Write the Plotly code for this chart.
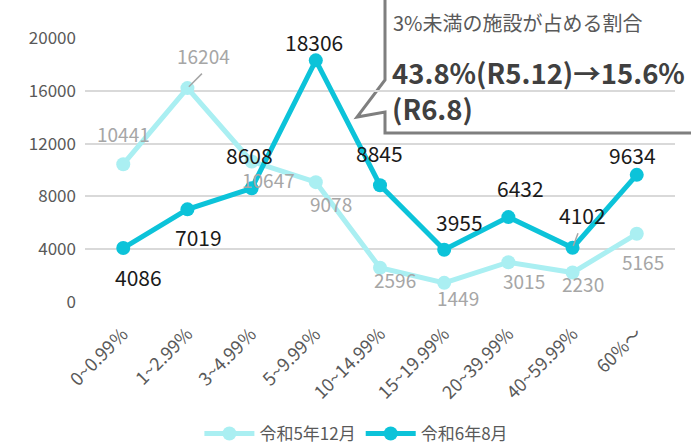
import plotly.graph_objects as go

categories = ["0~0.99％", "1~2.99%", "3~4.99％", "5~9.99％", "10~14.99%",
              "15~19.99%", "20~39.99%", "40~59.99%", "60%～"]
r5_12 = [10441, 16204, 10647, 9078, 2596, 1449, 3015, 2230, 5165]
r6_8 = [4086, 7019, 8608, 18306, 8845, 3955, 6432, 4102, 9634]
y_ticks = [0, 4000, 8000, 12000, 16000, 20000]
y_tick_text = ["0", "4000", "8000", "12000", "16000", "20000"]
series_names = ["令和5年12月", "令和6年8月"]

LIGHT = "#aaeff2"
DARK = "#0cc3d9"
FONT = "Noto Sans CJK JP"

# label offsets (pixels) for each point
light_off = [(0, 31), (16, 33), (17, -18), (15, -21), (15, -12), (14, -15), (16, -18), (10, -11), (6, -28)]
dark_off = [(15, -29), (11, -28), (-2, 33), (-2, 18), (-1, 32), (15, 28), (12, 29), (10, 33), (-4, 20)]

fig = go.Figure()
fig.add_trace(go.Scatter(x=categories, y=r5_12, name=series_names[0], mode="lines+markers",
                         line=dict(color=LIGHT, width=5), marker=dict(color=LIGHT, size=14)))
fig.add_trace(go.Scatter(x=categories, y=r6_8, name=series_names[1], mode="lines+markers",
                         line=dict(color=DARK, width=5), marker=dict(color=DARK, size=14)))

ann = []
for c, v, (dx, dy) in zip(categories, r5_12, light_off):
    ann.append(dict(x=c, y=v, xref="x", yref="y", text=str(v), showarrow=False,
                    xshift=dx, yshift=dy, font=dict(family=FONT, size=19, color="#a6a6a6")))
for c, v, (dx, dy) in zip(categories, r6_8, dark_off):
    ann.append(dict(x=c, y=v, xref="x", yref="y", text=str(v), showarrow=False,
                    xshift=dx, yshift=dy, font=dict(family=FONT, size=21, color="#1a1a1a")))
# leader lines
ann.append(dict(x=categories[1], y=r5_12[1], xref="x", yref="y", text="", showarrow=True,
                ax=16, ay=-16, arrowhead=0, arrowwidth=1.5, arrowcolor="#a6a6a6", standoff=2))
ann.append(dict(x=categories[7], y=r6_8[7], xref="x", yref="y", text="", showarrow=True,
                ax=6, ay=-16, arrowhead=0, arrowwidth=1.5, arrowcolor="#a6a6a6", standoff=2))

W, H = 691, 446
L, R, T, B = 85, 16, 38, 144
pw, ph = W - L - R, H - T - B

def px2paper(px, py):
    return (px - L) / pw, (H - B - py) / ph

# callout text (pixel positions converted to paper coords)
callout = [
    ("3%未満の施設が占める割合", 391, 23, 20, "#595959"),
    ("<b>43.8%(R5.12)→15.6%</b><br><b>(R6.8)</b>", 390, 90, 27.5, "#404040"),
]
for txt, x, y, sz, col in callout:
    px, py = px2paper(x, y)
    ann.append(dict(x=px, y=py, xref="paper", yref="paper", text=txt, showarrow=False,
                    xanchor="left", yanchor="middle", align="left",
                    font=dict(family=FONT, size=sz, color=col)))

pts = [(385, -5), (385, 80), (357, 117), (385, 112), (385, 133), (700, 133), (700, -5)]
pp = [px2paper(x, y) for x, y in pts]
path = "M " + " L ".join(f"{x},{y}" for x, y in pp) + " Z"

fig.update_layout(
    width=W, height=H,
    margin=dict(l=L, r=R, t=T, b=B, autoexpand=False),
    paper_bgcolor="white", plot_bgcolor="white",
    font=dict(family=FONT, color="#595959"),
    showlegend=True,
    legend=dict(orientation="h", x=0.46, xanchor="center", y=(H - B - 434) / ph, yanchor="middle",
                font=dict(family=FONT, size=17, color="#595959"), itemwidth=50),
    xaxis=dict(showgrid=False, tickangle=-45, tickfont=dict(family=FONT, size=18, color="#595959"),
               showline=False, ticks="", zeroline=False, automargin=False, ticklabelstandoff=17),
    yaxis=dict(range=[0, 20000], tickvals=y_ticks, ticktext=y_tick_text, showgrid=True,
               gridcolor="#d9d9d9", gridwidth=2, automargin=False,
               zeroline=False, tickfont=dict(family=FONT, size=17, color="#595959"), ticklabelstandoff=8),
    annotations=ann,
    shapes=[dict(type="path", path=path, xref="paper", yref="paper", fillcolor="white",
                 line=dict(color="#7f7f7f", width=3), layer="below")],
)

fig.write_html("out.html")
